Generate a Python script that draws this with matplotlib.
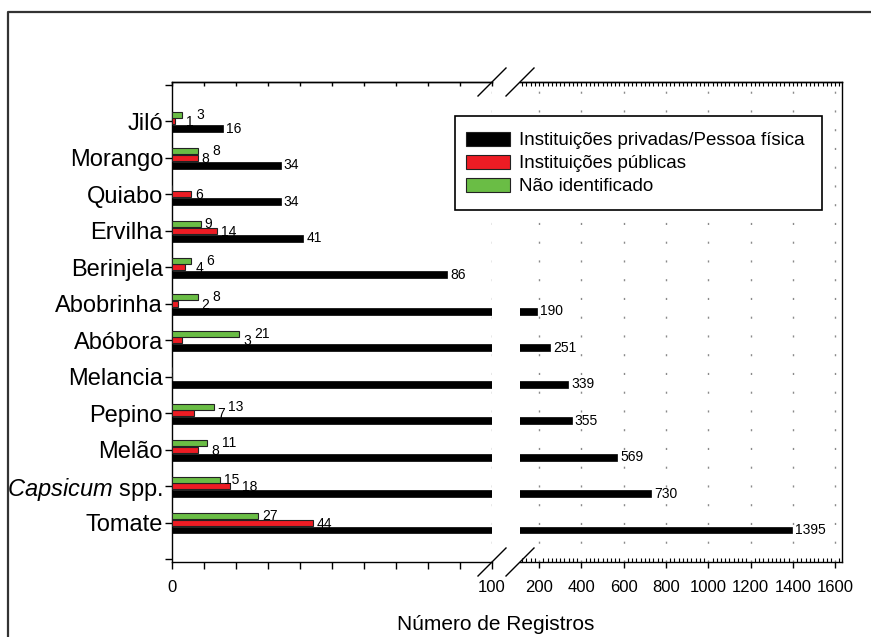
import matplotlib
matplotlib.use("Agg")
import matplotlib.pyplot as plt
from matplotlib.patches import Patch, Rectangle
from matplotlib.lines import Line2D
from matplotlib.ticker import MultipleLocator, FixedLocator

plt.rcParams['font.family'] = ['Liberation Sans', 'DejaVu Sans']
plt.rcParams['mathtext.fontset'] = 'custom'
plt.rcParams['mathtext.it'] = 'Liberation Sans:italic'
plt.rcParams['mathtext.rm'] = 'Liberation Sans'

# ---------------- data (top to bottom) ----------------
categories = ["Jiló", "Morango", "Quiabo", "Ervilha", "Berinjela", "Abobrinha",
              "Abóbora", "Melancia", "Pepino", "Melão", r"$\mathit{Capsicum}$ spp.", "Tomate"]
privadas = [16, 34, 34, 41, 86, 190, 251, 339, 355, 569, 730, 1395]
publicas = [1, 8, 6, 14, 4, 2, 3, 0, 7, 8, 18, 44]
nao_ident = [3, 8, 0, 9, 6, 8, 21, 0, 13, 11, 15, 27]
legend_labels = ["Instituições privadas/Pessoa física", "Instituições públicas", "Não identificado"]
left_xticks = [0, 100]
right_xticks = [200, 400, 600, 800, 1000, 1200, 1400, 1600]

C_BLACK = "#000000"
C_RED = "#ED1C24"
C_GREEN = "#6ABD45"

W, H = 871, 637
fig = plt.figure(figsize=(W / 100, H / 100), dpi=100)
PT = 0.72  # points per pixel at dpi 100

def fx(p):
    return p / W

def fy(p):
    return 1 - p / H

top_px, bot_px = 82, 562
L0, L1 = 172, 492
R0, R1 = 520, 842
ax1 = fig.add_axes([fx(L0), fy(bot_px), fx(L1 - L0), (bot_px - top_px) / H])
ax2 = fig.add_axes([fx(R0), fy(bot_px), fx(R1 - R0), (bot_px - top_px) / H])

n = len(categories)
ypos = [n - 1 - i for i in range(n)]
bh = 0.165
off_g, off_r, off_b = 0.18, 0.0, -0.205

for ax in (ax1, ax2):
    ax.barh([y + off_b for y in ypos], privadas, height=bh + 0.02, color=C_BLACK,
            edgecolor=C_BLACK, linewidth=0.5, zorder=3)
    ax.set_ylim(-1.08, 12.08)

ax1.barh([y + off_r for y in ypos], publicas, height=bh, color=C_RED,
         edgecolor="#222222", linewidth=0.8, zorder=3)
ax1.barh([y + off_g for y in ypos], nao_ident, height=bh, color=C_GREEN,
         edgecolor="#222222", linewidth=0.8, zorder=3)

ax1.set_xlim(0, 100)
ax2.set_xlim(110, 1632)

# spines
for ax in (ax1, ax2):
    for s in ax.spines.values():
        s.set_linewidth(1.0)
ax1.spines['right'].set_visible(False)
ax2.spines['left'].set_visible(False)

# y ticks
ax1.yaxis.set_major_locator(FixedLocator(list(range(-1, 13))))
ax1.set_yticklabels([""] + categories[::-1] + [""])
ax1.tick_params(axis='y', direction='out', length=7 * PT, width=1, labelsize=17, pad=2 * PT)
ax2.tick_params(axis='y', left=False, right=False, labelleft=False)

# x ticks left
ax1.xaxis.set_major_locator(MultipleLocator(10))
ax1.set_xticklabels([str(int(t)) if int(t) in left_xticks else "" for t in ax1.get_xticks()])
ax1.tick_params(axis='x', direction='out', length=7 * PT, width=1, labelsize=12, pad=11 * PT)
sec1 = ax1.secondary_xaxis('top')
sec1.xaxis.set_major_locator(MultipleLocator(10))
sec1.tick_params(direction='in', length=4 * PT, width=1, labeltop=False)
sec1.spines['top'].set_linewidth(1.0)

# x ticks right
ax2.xaxis.set_major_locator(FixedLocator(right_xticks))
ax2.xaxis.set_minor_locator(MultipleLocator(20))
ax2.set_xticklabels([str(t) for t in right_xticks])
ax2.tick_params(axis='x', which='major', direction='out', length=6 * PT, width=1, labelsize=12, pad=12 * PT)
ax2.tick_params(axis='x', which='minor', direction='in', length=4 * PT, width=0.8)
sec2 = ax2.secondary_xaxis('top')
sec2.xaxis.set_major_locator(FixedLocator(right_xticks))
sec2.xaxis.set_minor_locator(MultipleLocator(20))
sec2.tick_params(which='both', direction='in', length=4 * PT, width=0.8, labeltop=False)
sec2.spines['top'].set_linewidth(1.0)

# dotted grid
grid_style = dict(color="#8a8a8a", linewidth=1.0, linestyle=(0, (1.5, 12)), zorder=1)
ax2.grid(axis='x', which='major', **grid_style)
ax2.set_axisbelow(True)
ax1.axvline(100, **grid_style)

# value labels
renderer = fig.canvas.get_renderer()
FS = 10
pad = 4
gap = 3

def text_width(s):
    t = fig.text(0, 0, s, fontsize=FS)
    w = t.get_window_extent(renderer).width
    t.remove()
    return w

def px(ax, v):
    return ax.transData.transform((v, 0))[0]

for i in range(n):
    y = ypos[i]
    b, r, g = privadas[i], publicas[i], nao_ident[i]
    axb = ax1 if b <= 100 else ax2
    axb.annotate(str(b), xy=(b, y + off_b), xytext=(3, 0), textcoords='offset pixels',
                 va='center', ha='left', fontsize=FS, zorder=5, annotation_clip=False)
    ge, re = px(ax1, g), px(ax1, r)
    gx = rx = None
    if g > 0 and g >= r:
        if r > 0:
            rx = ge + pad
            gx = rx + text_width(str(r)) + gap
        else:
            gx = ge + pad
    else:
        if g > 0:
            gx = ge + pad
            rx = max(re + pad, gx + text_width(str(g)) + gap) if r > 0 else None
        elif r > 0:
            rx = re + pad
    if gx is not None:
        ax1.annotate(str(g), xy=(g, y + off_g), xytext=(gx - ge, 0), textcoords='offset pixels',
                     va='center', ha='left', fontsize=FS, zorder=5, annotation_clip=False)
    if rx is not None:
        ax1.annotate(str(r), xy=(r, y + off_r), xytext=(rx - re, -1), textcoords='offset pixels',
                     va='center', ha='left', fontsize=FS, zorder=5, annotation_clip=False)

# x label
fig.text(fx(496), fy(625), "Número de Registros", ha='center', va='center', fontsize=15)

# break marks
for cx in (492, 520):
    for cy in (top_px, bot_px):
        fig.add_artist(Line2D([fx(cx - 14), fx(cx + 14)], [fy(cy + 14), fy(cy - 14)],
                              color='black', linewidth=1.0))

# outer frame (partially visible)
fig.add_artist(Line2D([fx(8), fx(8), fx(875)], [fy(645), fy(12), fy(12)],
                      color='#333333', linewidth=1.6))

# legend (content + separate frame box)
fig.add_artist(Rectangle((fx(455), fy(210)), fx(822 - 455), (210 - 116) / H,
                         transform=fig.transFigure, facecolor='white', edgecolor='black',
                         linewidth=1.2, zorder=4))
handles = [Patch(facecolor=c, edgecolor='#222222', linewidth=0.8) for c in (C_BLACK, C_RED, C_GREEN)]
leg = fig.legend(handles, legend_labels, loc='upper left', bbox_to_anchor=(fx(466), fy(132)),
                 fontsize=13.5, frameon=False, borderaxespad=0, borderpad=0,
                 handlelength=2.35, handleheight=0.75, handletextpad=0.5, labelspacing=0.3)
leg.set_zorder(5)

fig.savefig("out.png", dpi=100)
